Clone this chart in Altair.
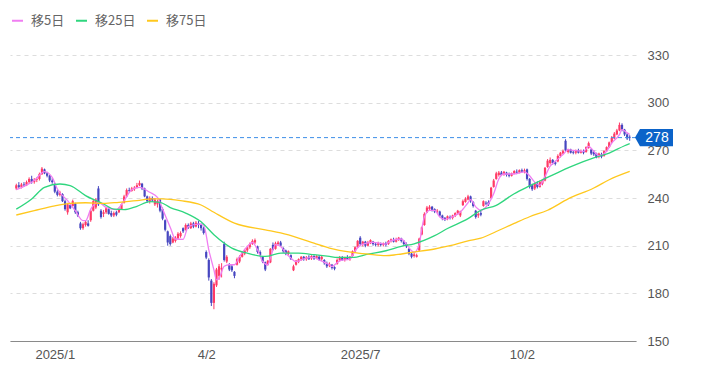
import altair as alt
import pandas as pd

# ---------------- data ----------------
idx = list(range(240))
opens = [246,248,247,248.5,248,250,252,250,251.5,252,
         255,258,255.5,254,251,249,244,242,242.5,238,
         231,235.5,235,236.5,231,224,221,223,224,226,
         232,234,246,232,230,231,233,230.5,229,231,
         231,233,237,241,245,244.5,245.5,246.5,248,249,
         246,241,238,240,236,236,239,233,226,219,
         216,212,213,214.5,216,221,220,223,221,224,
         222,224,223,221,206,201,188,174,185,191,
         195,211,200,198,197,193.5,198,200,203,205,
         207,209,211,212,209.5,206,203,199.5,198,199.5,
         210.5,208,211,212,208.5,207,205,204,194.5,198,
         200,201.5,203,201.5,203,202,203.5,202,203,201.5,
         201,199,197.5,198,196.5,198.5,201,202.5,201,202.5,
         201.5,203.5,206.5,209,215,211,212.5,210,211.5,212.5,
         211,210.5,211.5,210.5,211.5,211,213,213.5,212.5,214,
         214.5,213,211,208,205,203.5,203,207,217,223,
         231,233,234.5,233,231.5,231.5,229,227.5,227,228,
         227.5,229,230.5,229,235.5,237.5,239,241,237.5,232,
         229,230.5,235,237,237.5,240,247,252,254.5,256,
         255,256,255,254,255.5,256.5,256,257.5,256.5,258,
         252,248,246,249,247,249,251,259.5,262,264,
         262.5,263,266.5,268,276,269,270.5,269,268.5,270,
         268.5,269.5,269,271.5,270.5,269,268,266,267.5,266.5,
         269.5,272,275,277.5,280,282.5,286,283,280,278.5]
closes = [248,247,248.5,248,250,252,250,251.5,252,255,
          258.5,255.5,254,251,250,244,242,243.5,238,233,
          236,233.5,238,231,229,221,223.5,225,222.5,232,
          238,239,236,228,231,233.5,230,229,230.5,229.5,
          233,236,241,245,244.5,246,246.5,248,249.5,246,
          241,238,240,238.5,239,238,232,227,220,212,
          211,214.5,215,217.5,218,219,223,221.5,224,222,
          224.5,223,221,218,202.5,190,174,186,195,197,
          196,201,203,195,194.5,191,201.5,203,205.5,207,
          209,211,213,213.5,206,204,200,195,200.5,208,
          207.5,211.5,212,210,206.5,205,206.5,201.5,197,200.5,
          201.5,203,201.5,202.5,201.5,203.5,202,203.5,201,203,
          199,197,198.5,196,195.5,201,202.5,201,202.5,201.5,
          203,206.5,209,213,211,212.5,210,212,213.5,211,
          210.5,211.5,210.5,211.5,210.5,213,214,212.5,214,215,
          213,211,209.5,205,203,204.5,204,214.5,221.5,230,
          234,234.5,232.5,231.5,232,229,227,226.5,228.5,227.5,
          229,230.5,232,231.5,238,239.5,241,238,235,228,
          230,229.5,238,236.5,236,246.5,251,255.5,256,254.5,
          256.5,254.5,254,255.5,257,256,257.5,256.5,257.5,252,
          247,245.5,249,247,250,251.5,259,263.5,264,262,
          261.5,266.5,268.5,269.5,270,270.5,268.5,268.5,270,268.5,
          269.5,268.5,272,274.5,268,267.5,265.5,268,266,269.5,
          272,275,278,280.5,282.5,286,283,280,277.5,278]
highs = [249,250,249.5,250,251,253,254,252.5,253,256,
         259.5,258.5,256.5,254.5,252.5,249.5,245,244.5,243,239,
         237,236,239,237,232,225,224.5,226,226,233,
         239.5,240,247.5,233,232.5,234.5,234,232,231.5,232,
         234,236.5,242,246,246.5,247,247.5,249.5,251,249.5,
         246.5,241.5,241,241,240,239,239.5,234,226.5,219.5,
         217,215.5,216,218.5,219,221.5,224,224,225,225,
         225.5,225.5,224,222,207,202,189,187,196,198.5,
         199,212.5,204,199,198,194,202.5,204,206.5,208,
         210,212,214,214.5,210,207,203.5,200,201,208.5,
         212,212.5,213,213,209,207.5,207,204.5,198,201,
         202,203.5,203.5,203.5,204,204,204,204,204,203.5,
         201.5,200,199.5,198.5,197,202,203.5,203.5,203,204,
         203.5,207,209.5,213.5,216,213,213,213,214,213,
         212,212.5,212,212,212.5,213.5,214.5,215,215,215.5,
         215,213.5,212,208.5,206,205.5,205,215,222,231,
         235,235.5,235,233.5,233,232,229.5,228,229,229,
         229.5,231,232.5,232,239,240.5,242,241.5,238,232.5,
         231,232,238.5,238,238.5,247,252,256.5,257,257,
         257,256.5,256,256,257.5,258,258,258.5,258.5,258.5,
         252.5,249,250,250.5,251,252,259.5,264.5,265.5,264.5,
         263.5,267.5,269,270.5,277,271,271,270,270.5,271,
         270.5,270.5,272.5,275.5,271,270,268.5,268.5,268.5,270,
         272.5,275.5,279,281.5,283.5,287.5,287,283.5,281,279.5]
lows = [245,246,246,247,247.5,249,249,249,250,251,
        254.5,255,253,250,249,243,241,241,237.5,232,
        229.5,233,234.5,230,228,220,220,222,222,225,
        231.5,233,235,227,228,230,229.5,228,228,228.5,
        230.5,232.5,236.5,240.5,243.5,244,244.5,246,247.5,245,
        240.5,237,236.5,237.5,235,234,231,226,219,210,
        210,211.5,212,214,215,218,219.5,220.5,220.5,221,
        221.5,221,219.5,217,201.5,188,172,170,184,188.5,
        190,200,199,194,193.5,189.5,197.5,199,202.5,204,
        206,208,210.5,211,205,203.5,199,194,197.5,199,
        207,207.5,210,209.5,205.5,204,204,201,194,197.5,
        199,200.5,200.5,200.5,201,201,201,201.5,200.5,200.5,
        198,196,196.5,195,194.5,198,200,200.5,200,201,
        200.5,203,205.5,208.5,210,209.5,209,209.5,211,210,
        209.5,209.5,209.5,209.5,209.5,210.5,212,212,212,213,
        212,210,208.5,204,202,202.5,202.5,206.5,216.5,222.5,
        230.5,232.5,231.5,230.5,230.5,228,226,225.5,226,226.5,
        226.5,228,229.5,228,235,237,238.5,237,234,227,
        227.5,228.5,234.5,235.5,235,239.5,246.5,251.5,253.5,254,
        254,253.5,253,253.5,255,255,255.5,256,255.5,251,
        246,244.5,245,246,246.5,248,250.5,259,261,261,
        260.5,262.5,265.5,267.5,269,268,268,267.5,267.5,268,
        268,267.5,268.5,271,267,266.5,265,265,265,266,
        269,271.5,274.5,277,279.5,282,282,279,276.5,276]

ma5_idx = [0,3,7,11,14,16,20,23,26,27,
           29,32,35,39,42,45,48,52,55,57,
           60,62,65,67,71,73,75,77,78,79,
           81,83,85,87,90,92,94,96,98,99,
           101,103,105,107,109,111,113,116,118,122,
           123,126,130,132,135,139,144,146,150,152,
           154,155,157,158,159,161,163,165,167,171,
           173,176,177,179,181,184,186,188,190,194,
           198,200,202,204,206,208,210,213,215,217,
           221,223,225,227,230,232,235,236,238,239]
ma5_val = [245.2,247.3,251,256.6,253,245.7,238.3,232,225.7,225.7,
           233,237.3,234.1,232.7,238.3,245.2,246.7,243.6,240.4,233,
           221.5,214.2,214,222,223.6,223,207.4,194.8,188.5,189.5,
           197,198,198,203.2,209.5,212,207.4,200,198,202.2,
           210.6,209.5,205.3,202.2,200,201,202.2,202.6,201,198,
           196.9,200.5,201.5,206.8,211,212.1,211,213.2,214.2,211,
           206.8,205.8,211,220.6,228,232.2,232.2,228,226.5,229,
           231.1,237,239,234.4,232.3,236.5,242.7,252,255.1,255.1,
           256.5,254,250,248,253.6,260,263,267.3,270.4,270,
           269.4,272.5,269.4,266.6,269.4,274.6,279.9,283,281,280]
ma25_idx = [0,6,11,17,21,27,34,38,42,47,52,56,60,66,72,77,84,90,97,103,
            110,116,122,125,131,137,144,150,155,163,168,176,181,187,194,
            200,205,212,218,225,231,237,239]
ma25_val = [233,239.4,246.7,248.8,247.8,241.5,236.2,233,232.7,234.8,
            237.7,237.3,234,230.5,225,216.9,208.5,205.3,203.2,205.3,
            205.3,204.3,203.2,202.6,202.6,204.7,206.8,209.6,211.2,216.3,
            220.8,227,232.3,235.4,242.7,247.6,251.5,256.8,261,265.2,
            268.3,272.9,274.2]
ma75_idx = [0,7,15,21,27,34,40,47,53,57,64,72,77,85,97,103,110,116,122,
            131,137,144,148,154,163,169,176,181,187,194,200,207,215,225,231,239]
ma75_val = [229.3,232,235,236.6,237,236.6,237.3,238.3,239.4,239.4,
            238.3,235.6,231,224.2,220,218,214.8,211.6,208.5,205.8,
            204.7,203.7,204.3,205.8,207.9,210,213,214.7,218.9,224,
            228.2,232.3,239.4,246.3,251.5,256.7]

series_names = ["移5日", "移25日", "移75日"]
series_colors = ["#f07ef2", "#2fd67e", "#ffc81e"]
tick_idx = [15, 74, 134, 197]
tick_labels = ["2025/1", "4/2", "2025/7", "10/2"]
y_ticks = [150, 180, 210, 240, 270, 300, 330]
last_price = [278]

RED = "#ff3a66"
BLUE = "#4646c0"

# ---------------- tables ----------------
candles = pd.DataFrame({"i": idx, "open": opens, "close": closes,
                        "high": highs, "low": lows})
ma = pd.concat([
    pd.DataFrame({"i": ma5_idx, "v": ma5_val, "series": series_names[0]}),
    pd.DataFrame({"i": ma25_idx, "v": ma25_val, "series": series_names[1]}),
    pd.DataFrame({"i": ma75_idx, "v": ma75_val, "series": series_names[2]}),
])
price = pd.DataFrame({"p": last_price})

label_expr = " : ".join(
    [f"datum.value == {t} ? '{l}'" for t, l in zip(tick_idx, tick_labels)]) + " : ''"

x_axis = alt.Axis(values=tick_idx, labelExpr=label_expr, grid=False, ticks=False,
                  domain=True, domainColor="#8a8a8a", domainWidth=1.2,
                  labelColor="#555555", labelFontSize=13, labelFont="Liberation Sans",
                  labelPadding=7, title=None, zindex=0)
x_scale = alt.Scale(domain=[-0.5, 239.5], nice=False, zero=False)
y_axis = alt.Axis(orient="right", values=y_ticks, grid=True, gridDash=[4, 4],
                  gridColor="#dddddd", domain=False, ticks=False, labelPadding=11,
                  labelColor="#555555", labelFontSize=13, labelFont="Liberation Sans",
                  title=None, zindex=0)
y_scale = alt.Scale(domain=[150, 330], nice=False, zero=False)


def X():
    return alt.X("i:Q", scale=x_scale, axis=x_axis)


def Y(field):
    return alt.Y(f"{field}:Q", scale=y_scale, axis=y_axis)


candle_color = alt.condition("datum.close >= datum.open", alt.value(RED), alt.value(BLUE))

wicks = alt.Chart(candles).mark_rule(strokeWidth=1).encode(
    x=X(), y=Y("low"), y2="high:Q", color=candle_color)
bodies = alt.Chart(candles).mark_bar(size=2.2).encode(
    x=X(), y=Y("open"), y2="close:Q", color=candle_color)

lines = alt.Chart(ma).mark_line(strokeWidth=1.3, interpolate="monotone").encode(
    x=X(), y=Y("v"),
    color=alt.Color("series:N",
                    scale=alt.Scale(domain=series_names, range=series_colors),
                    sort=series_names,
                    legend=alt.Legend(orient="none", legendX=1, legendY=-41,
                                      direction="horizontal", title=None,
                                      symbolType="stroke", symbolStrokeWidth=2,
                                      symbolSize=121, labelFontSize=13,
                                      labelColor="#666666",
                                      labelFont="Noto Sans CJK JP",
                                      columnPadding=7, labelOffset=7, padding=0)),
    detail="series:N")

price_rule = alt.Chart(price).mark_rule(strokeDash=[4, 3], color="#3d8ee8",
                                        strokeWidth=1).encode(y=Y("p"))

tag_path = "M-1,0 L-0.74,-0.45 L1,-0.45 L1,0.45 L-0.74,0.45 Z"
tag = alt.Chart(price).mark_point(shape=tag_path, size=1444, filled=True,
                                  color="#0b63c9", opacity=1, strokeWidth=0).encode(
    x=alt.value(644), y=Y("p"))
tag_text = alt.Chart(price).mark_text(color="white", fontSize=14,
                                      font="Liberation Sans", baseline="middle",
                                      align="center").encode(
    x=alt.value(647), y=Y("p"), text="p:Q")

chart = alt.layer(wicks, bodies, lines, price_rule, tag, tag_text).properties(
    width=626, height=286,
    padding={"left": 10, "top": 55, "right": 68, "bottom": 36},
    autosize=alt.AutoSizeParams(type="none"),
    background="white",
).configure_view(stroke=None)

chart.save("out.html", embed_options={"renderer": "svg", "actions": False})
